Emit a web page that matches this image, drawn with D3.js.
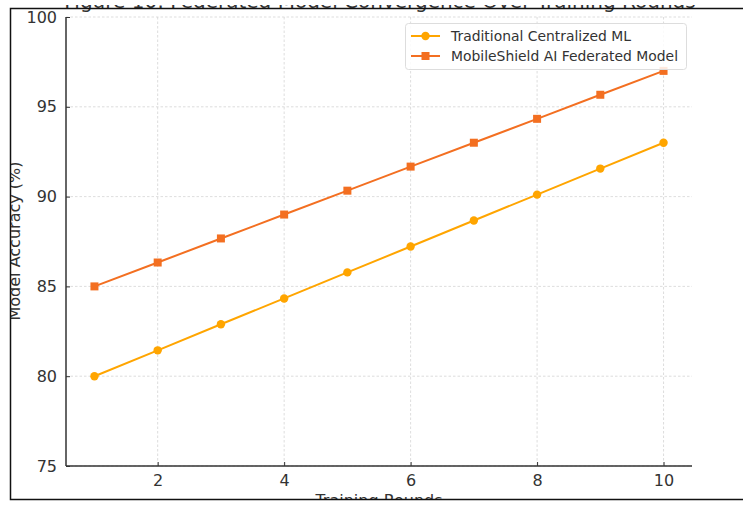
<!DOCTYPE html>
<html><head><meta charset="utf-8">
<script src="https://cdn.jsdelivr.net/npm/d3@7"></script>
<style>body{margin:0;background:#fff}svg{display:block}</style>
</head><body>
<script>
const rounds = [1,2,3,4,5,6,7,8,9,10];
const traditional = [80.00,81.44,82.89,84.33,85.78,87.22,88.67,90.11,91.56,93.00];
const federated = [85.00,86.33,87.67,89.00,90.33,91.67,93.00,94.33,95.67,97.00];
const seriesNames = ["Traditional Centralized ML","MobileShield AI Federated Model"];
const xTicks = [2,4,6,8,10];
const yTicks = [75,80,85,90,95,100];
const title = "Figure 10: Federated Model Convergence Over Training Rounds";

const W=743,H=505;
const svg=d3.select("body").append("svg").attr("width",W).attr("height",H);
const font="DejaVu Sans, sans-serif";
const colors=["#FFA500","#F36F21"];

const x=d3.scaleLinear().domain([0.55,10.45]).range([66,692]);
const y=d3.scaleLinear().domain([75,100]).range([466,17]);

const defs=svg.append("defs");
defs.append("clipPath").attr("id","frame")
  .append("rect").attr("x",11).attr("y",9).attr("width",W).attr("height",490);
defs.append("clipPath").attr("id","titleclip")
  .append("rect").attr("x",0).attr("y",5).attr("width",W).attr("height",20);
const g=svg.append("g").attr("clip-path","url(#frame)");

// grid
g.append("g").selectAll("line").data(xTicks).join("line")
  .attr("x1",d=>x(d)).attr("x2",d=>x(d)).attr("y1",17).attr("y2",466)
  .attr("stroke","#d4d4d4").attr("stroke-width",0.8).attr("stroke-dasharray","2.5,2");
g.append("g").selectAll("line").data(yTicks).join("line")
  .attr("x1",66).attr("x2",692).attr("y1",d=>y(d)).attr("y2",d=>y(d))
  .attr("stroke","#d4d4d4").attr("stroke-width",0.8).attr("stroke-dasharray","2.5,2");

// axes
const xa=g.append("g").attr("transform","translate(0,466)")
  .call(d3.axisBottom(x).tickValues(xTicks).tickSize(-4).tickPadding(9));
const ya=g.append("g").attr("transform","translate(66,0)")
  .call(d3.axisLeft(y).tickValues(yTicks).tickSize(-4).tickPadding(9));
[xa,ya].forEach(a=>{
  a.select(".domain").attr("stroke","#333").attr("stroke-width",1.5);
  a.selectAll(".tick line").attr("stroke","#333");
  a.selectAll("text").attr("font-family",font).attr("font-size",16).attr("fill","#333");
});
ya.select(".domain").attr("d","M0,466V17");
xa.select(".domain").attr("d","M66,0H692");

// series
const data=[traditional,federated];
const line=d3.line().x((d,i)=>x(rounds[i])).y(d=>y(d));
data.forEach((s,k)=>{
  g.append("path").attr("d",line(s)).attr("fill","none").attr("stroke",colors[k]).attr("stroke-width",2);
  if(k===0){
    g.append("g").selectAll("circle").data(s).join("circle")
      .attr("cx",(d,i)=>x(rounds[i])).attr("cy",d=>y(d)).attr("r",4.2).attr("fill",colors[k]);
  } else {
    g.append("g").selectAll("rect").data(s).join("rect")
      .attr("x",(d,i)=>x(rounds[i])-4).attr("y",d=>y(d)-4).attr("width",8).attr("height",8).attr("fill",colors[k]);
  }
});

// legend
const lg=g.append("g");
lg.append("rect").attr("x",405.5).attr("y",23.5).attr("width",281).attr("height",46).attr("rx",3)
  .attr("fill","rgba(255,255,255,0.85)").attr("stroke","#ddd");
seriesNames.forEach((n,k)=>{
  const yy=36+k*20;
  lg.append("line").attr("x1",411).attr("x2",440).attr("y1",yy).attr("y2",yy).attr("stroke",colors[k]).attr("stroke-width",2);
  if(k===0) lg.append("circle").attr("cx",425.5).attr("cy",yy).attr("r",4.2).attr("fill",colors[k]);
  else lg.append("rect").attr("x",421.5).attr("y",yy-4).attr("width",8).attr("height",8).attr("fill",colors[k]);
  lg.append("text").attr("x",451).attr("y",yy+5).text(n)
    .attr("font-family",font).attr("font-size",13.9).attr("fill","#333");
});

// axis labels
g.append("text").attr("transform","translate(20,241) rotate(-90)").attr("text-anchor","middle")
  .attr("font-family",font).attr("font-size",16).attr("fill","#333").text("Model Accuracy (%)");
g.append("text").attr("x",379).attr("y",506).attr("text-anchor","middle")
  .attr("font-family",font).attr("font-size",16).attr("fill","#333").text("Training Rounds");

// title (cropped at the top of the picture)
svg.append("text").attr("x",380).attr("y",8).attr("text-anchor","middle")
  .attr("clip-path","url(#titleclip)")
  .attr("font-family",font).attr("font-size",20).attr("fill","#333").text(title);

// frame
svg.append("path").attr("d","M743,8.5H10.5V499.5H743").attr("fill","none").attr("stroke","#111").attr("stroke-width",1.5);
</script>
</body></html>
